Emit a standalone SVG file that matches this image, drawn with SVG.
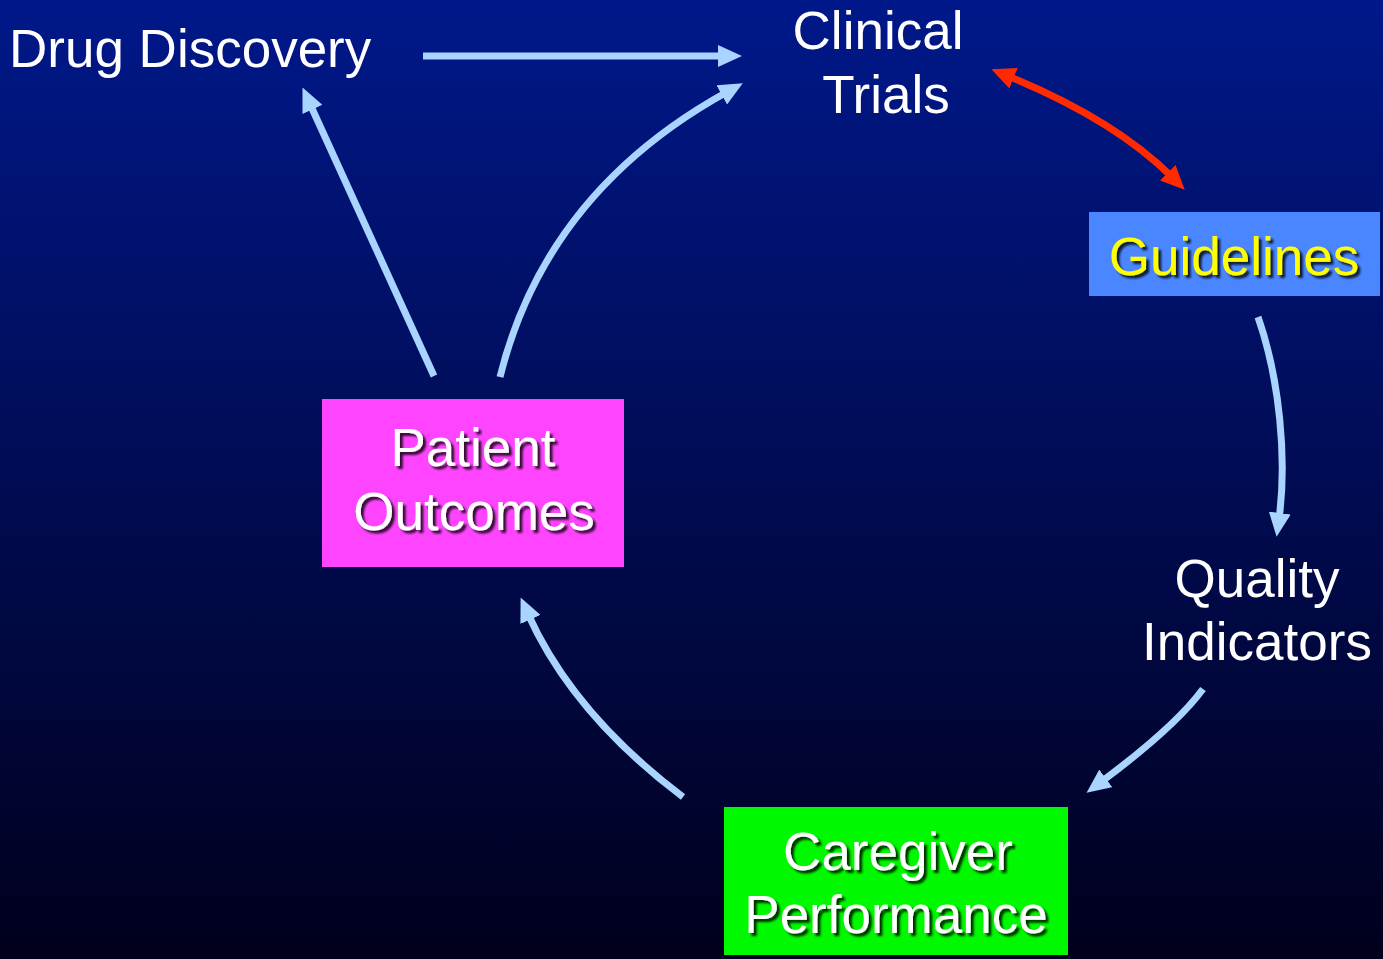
<svg xmlns="http://www.w3.org/2000/svg" width="1383" height="959" viewBox="0 0 1383 959">
  <defs>
    <linearGradient id="bg" x1="0" y1="0" x2="0" y2="1">
      <stop offset="0" stop-color="#00188a"/>
      <stop offset="1" stop-color="#00001c"/>
    </linearGradient>
    <filter id="shadow" x="-10%" y="-20%" width="130%" height="150%">
      <feDropShadow dx="3" dy="3" stdDeviation="1.3" flood-color="#000000" flood-opacity="0.8"/>
    </filter>
    <marker id="head" markerUnits="userSpaceOnUse" markerWidth="24" markerHeight="22" refX="6" refY="11" orient="auto">
      <path d="M0,0 L24,11 L0,22 z" fill="#a8d4ff"/>
    </marker>
    <marker id="headRed" markerUnits="userSpaceOnUse" markerWidth="24" markerHeight="22" refX="6" refY="11" orient="auto-start-reverse">
      <path d="M0,0 L24,11 L0,22 z" fill="#ff2a00"/>
    </marker>
    <style>
      .lbl { font-family: "Liberation Sans", Arial, sans-serif; font-size: 53px; fill: #ffffff; }
      .mid { text-anchor: middle; }
      .box-lbl { filter: url(#shadow); }
      .link { fill: none; stroke: #a8d4ff; stroke-width: 7; marker-end: url(#head); }
      .link-red { fill: none; stroke: #ff2a00; stroke-width: 7; marker-start: url(#headRed); marker-end: url(#headRed); }
    </style>
  </defs>

  <rect x="0" y="0" width="1383" height="959" fill="url(#bg)"/>

  <g id="connectors">
    <path class="link" d="M423,56 L724,56"/>
    <path class="link" d="M434,376 L310,104"/>
    <path class="link" d="M500,377 Q546,192 727,92"/>
    <path class="link-red" d="M1008,76 Q1115,120 1172,177"/>
    <path class="link" d="M1258,317 C1280,380 1287,460 1279,519"/>
    <path class="link" d="M1203,689 Q1175,727 1101,782"/>
    <path class="link" d="M683,797 Q573,714 528,614"/>
  </g>

  <g id="drug-discovery">
    <text class="lbl" x="9" y="67">Drug Discovery</text>
  </g>

  <g id="clinical-trials">
    <text class="lbl mid" x="878" y="49">Clinical</text>
    <text class="lbl mid" x="886" y="113">Trials</text>
  </g>

  <g id="guidelines">
    <rect x="1089" y="212" width="291" height="84" fill="#4a86ff"/>
    <text class="lbl mid box-lbl" x="1234" y="275" style="fill:#ffff00">Guidelines</text>
  </g>

  <g id="quality-indicators">
    <text class="lbl mid" x="1257" y="597">Quality</text>
    <text class="lbl mid" x="1257" y="660">Indicators</text>
  </g>

  <g id="patient-outcomes">
    <rect x="322" y="399" width="302" height="168" fill="#ff44ff"/>
    <text class="lbl mid box-lbl" x="473" y="466">Patient</text>
    <text class="lbl mid box-lbl" x="474" y="530">Outcomes</text>
  </g>

  <g id="caregiver-performance">
    <rect x="724" y="807" width="344" height="148" fill="#00f800"/>
    <text class="lbl mid box-lbl" x="898" y="870">Caregiver</text>
    <text class="lbl mid box-lbl" x="896" y="933">Performance</text>
  </g>
</svg>
